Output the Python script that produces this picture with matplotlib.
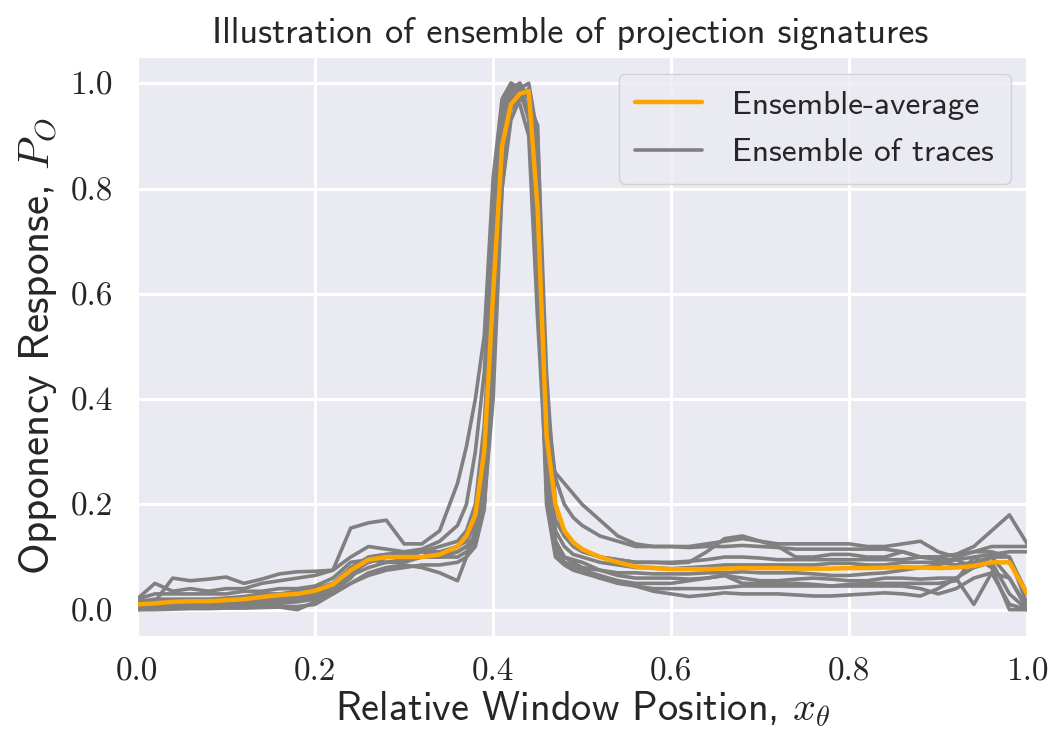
import numpy as np
import matplotlib as mpl
import matplotlib.pyplot as plt
import seaborn as sns

sns.set_style('darkgrid')
mpl.rcParams['mathtext.fontset'] = 'cm'
mpl.rcParams['axes.unicode_minus'] = False
mpl.rcParams['font.family'] = ['cmss10', 'DejaVu Sans']

# relative window positions (finer around the peak)
x_pos = [0.00, 0.02, 0.04, 0.06, 0.08, 0.10, 0.12, 0.14, 0.16, 0.18,
         0.20, 0.22, 0.24, 0.26, 0.28, 0.30, 0.32, 0.34, 0.36,
         0.37, 0.38, 0.39, 0.40, 0.41, 0.42, 0.43, 0.44, 0.45, 0.46,
         0.47, 0.48, 0.49, 0.50,
         0.52, 0.54, 0.56, 0.58, 0.60, 0.62, 0.64, 0.66, 0.68, 0.70,
         0.72, 0.74, 0.76, 0.78, 0.80, 0.82, 0.84, 0.86, 0.88, 0.90,
         0.92, 0.94, 0.96, 0.98, 1.00]

trace_1 = [0.02, 0.05, 0.035, 0.04, 0.035, 0.04, 0.04, 0.05, 0.055, 0.06,
           0.065, 0.075, 0.155, 0.165, 0.17, 0.125, 0.125, 0.15, 0.24,
           0.31, 0.40, 0.52, 0.82, 0.97, 1.0, 0.99, 0.93, 0.6, 0.3,
           0.26, 0.24, 0.22, 0.2,
           0.17, 0.14, 0.125, 0.12, 0.12, 0.12, 0.125, 0.13, 0.135, 0.13,
           0.125, 0.125, 0.125, 0.125, 0.125, 0.12, 0.12, 0.125, 0.13, 0.11,
           0.10, 0.11, 0.12, 0.12, 0.12]
trace_2 = [0.01, 0.015, 0.06, 0.055, 0.058, 0.062, 0.05, 0.058, 0.068, 0.072,
           0.073, 0.075, 0.10, 0.12, 0.115, 0.11, 0.115, 0.13, 0.16,
           0.2, 0.3, 0.45, 0.75, 0.95, 0.99, 1.0, 0.97, 0.85, 0.4,
           0.25, 0.2, 0.175, 0.16,
           0.14, 0.13, 0.12, 0.12, 0.12, 0.118, 0.12, 0.12, 0.122, 0.12,
           0.118, 0.115, 0.115, 0.115, 0.115, 0.115, 0.115, 0.11, 0.10, 0.095,
           0.095, 0.10, 0.105, 0.11, 0.11]
trace_3 = [0.005, 0.005, 0.008, 0.01, 0.01, 0.012, 0.015, 0.02, 0.02, 0.025,
           0.03, 0.04, 0.07, 0.09, 0.1, 0.105, 0.11, 0.11, 0.12,
           0.14, 0.17, 0.3, 0.6, 0.9, 0.97, 0.99, 1.0, 0.9, 0.45,
           0.2, 0.14, 0.12, 0.11,
           0.1, 0.095, 0.09, 0.09, 0.09, 0.092, 0.095, 0.1, 0.1, 0.098,
           0.095, 0.095, 0.095, 0.095, 0.095, 0.095, 0.095, 0.095, 0.1, 0.1,
           0.105, 0.12, 0.15, 0.18, 0.125]
trace_4 = [0.0, 0.002, 0.003, 0.003, 0.004, 0.004, 0.005, 0.005, 0.006, 0.006,
           0.01, 0.03, 0.05, 0.065, 0.075, 0.08, 0.085, 0.085, 0.09,
           0.1, 0.12, 0.19, 0.45, 0.85, 0.96, 0.99, 0.98, 0.88, 0.3,
           0.13, 0.1, 0.09, 0.08,
           0.06, 0.05, 0.045, 0.035, 0.03, 0.025, 0.028, 0.032, 0.03, 0.03,
           0.03, 0.028, 0.026, 0.026, 0.028, 0.03, 0.032, 0.03, 0.026, 0.04,
           0.06, 0.08, 0.09, 0.03, 0.0]
trace_5 = [0.01, 0.01, 0.012, 0.012, 0.013, 0.014, 0.015, 0.018, 0.02, 0.022,
           0.03, 0.045, 0.065, 0.08, 0.09, 0.095, 0.1, 0.105, 0.12,
           0.13, 0.16, 0.25, 0.5, 0.9, 0.98, 1.0, 0.97, 0.75, 0.25,
           0.13, 0.1, 0.095, 0.09,
           0.075, 0.065, 0.06, 0.06, 0.06, 0.058, 0.06, 0.065, 0.06, 0.055,
           0.055, 0.058, 0.06, 0.058, 0.055, 0.055, 0.06, 0.06, 0.058, 0.06,
           0.06, 0.01, 0.07, 0.06, 0.005]
trace_6 = [0.005, 0.006, 0.006, 0.007, 0.007, 0.008, 0.008, 0.01, 0.012, 0.015,
           0.02, 0.03, 0.05, 0.07, 0.08, 0.085, 0.08, 0.07, 0.055,
           0.1, 0.15, 0.2, 0.55, 0.93, 0.99, 0.98, 0.94, 0.7, 0.22,
           0.11, 0.09, 0.085, 0.08,
           0.075, 0.07, 0.07, 0.068, 0.068, 0.068, 0.07, 0.07, 0.072, 0.07,
           0.07, 0.07, 0.068, 0.065, 0.065, 0.068, 0.07, 0.075, 0.08, 0.085,
           0.095, 0.08, 0.1, 0.06, 0.0]
trace_7 = [0.008, 0.01, 0.01, 0.01, 0.012, 0.012, 0.012, 0.015, 0.015, 0.02,
           0.025, 0.035, 0.06, 0.1, 0.105, 0.1, 0.11, 0.1, 0.11,
           0.12, 0.14, 0.22, 0.7, 0.95, 1.0, 0.99, 0.95, 0.65, 0.2,
           0.1, 0.085, 0.075, 0.07,
           0.06, 0.055, 0.05, 0.05, 0.05, 0.055, 0.06, 0.065, 0.05, 0.05,
           0.05, 0.05, 0.048, 0.045, 0.048, 0.05, 0.05, 0.05, 0.05, 0.05,
           0.055, 0.1, 0.08, 0.0, 0.0]
trace_8 = [0.015, 0.02, 0.02, 0.02, 0.02, 0.022, 0.025, 0.03, 0.03, 0.035,
           0.04, 0.05, 0.08, 0.1, 0.105, 0.11, 0.11, 0.12, 0.13,
           0.15, 0.2, 0.35, 0.65, 0.92, 0.97, 0.96, 0.9, 0.55, 0.25,
           0.17, 0.14, 0.125, 0.115,
           0.1, 0.095, 0.09, 0.09, 0.088, 0.09, 0.11, 0.135, 0.14, 0.13,
           0.12, 0.1, 0.1, 0.105, 0.105, 0.1, 0.1, 0.11, 0.1, 0.1,
           0.105, 0.11, 0.11, 0.1, 0.03]
trace_9 = [0.02, 0.03, 0.03, 0.03, 0.03, 0.03, 0.035, 0.035, 0.04, 0.04,
           0.045, 0.06, 0.09, 0.095, 0.09, 0.09, 0.1, 0.1, 0.1,
           0.11, 0.13, 0.22, 0.5, 0.8, 0.93, 0.97, 0.99, 0.8, 0.3,
           0.15, 0.12, 0.105, 0.1,
           0.09, 0.085, 0.08, 0.08, 0.078, 0.08, 0.082, 0.085, 0.085, 0.085,
           0.085, 0.085, 0.085, 0.088, 0.088, 0.085, 0.085, 0.09, 0.09, 0.09,
           0.085, 0.09, 0.1, 0.1, 0.01]
trace_10 = [0.0, 0.0, 0.001, 0.002, 0.002, 0.003, 0.003, 0.004, 0.005, 0.0,
            0.015, 0.04, 0.08, 0.09, 0.1, 0.1, 0.1, 0.1, 0.11,
            0.12, 0.14, 0.2, 0.4, 0.8, 0.95, 0.97, 0.96, 0.92, 0.35,
            0.12, 0.09, 0.08, 0.075,
            0.065, 0.055, 0.045, 0.04, 0.04, 0.04, 0.04, 0.042, 0.045, 0.045,
            0.045, 0.045, 0.045, 0.045, 0.045, 0.045, 0.045, 0.045, 0.04, 0.03,
            0.04, 0.06, 0.07, 0.01, 0.0]

ensemble_avg = [0.01, 0.012, 0.015, 0.016, 0.016, 0.018, 0.02, 0.024, 0.028, 0.03,
                0.036, 0.048, 0.075, 0.095, 0.1, 0.1, 0.1, 0.105, 0.12,
                0.14, 0.18, 0.3, 0.6, 0.88, 0.96, 0.98, 0.985, 0.76, 0.33,
                0.2, 0.15, 0.128, 0.115,
                0.1, 0.09, 0.082, 0.079, 0.077, 0.077, 0.077, 0.078, 0.079, 0.079,
                0.079, 0.078, 0.078, 0.078, 0.079, 0.079, 0.08, 0.081, 0.08, 0.079,
                0.08, 0.083, 0.09, 0.09, 0.03]

traces = [trace_1, trace_2, trace_3, trace_4, trace_5,
          trace_6, trace_7, trace_8, trace_9, trace_10]

fig = plt.figure(figsize=(10.51, 7.34), dpi=100)
ax = fig.add_axes([0.1304, 0.1335, 0.847, 0.789])

for i, tr in enumerate(traces):
    ax.plot(x_pos, tr, color='gray', lw=2.6,
            label='Ensemble of traces' if i == 0 else None)
ax.plot(x_pos, ensemble_avg, color='orange', lw=3.2, label='Ensemble-average')

ax.set_xlim(0, 1)
ax.set_ylim(-0.05, 1.05)
ax.set_xticks([0.0, 0.2, 0.4, 0.6, 0.8, 1.0])
ax.set_yticks([0.0, 0.2, 0.4, 0.6, 0.8, 1.0])
ax.set_xticklabels(['0.0', '0.2', '0.4', '0.6', '0.8', '1.0'])
ax.set_yticklabels(['0.0', '0.2', '0.4', '0.6', '0.8', '1.0'])
for lab in ax.get_xticklabels() + ax.get_yticklabels():
    lab.set_fontfamily('cmr10')
    lab.set_fontsize(24)
ax.tick_params(axis='x', pad=12)
ax.tick_params(axis='y', pad=14)
ax.grid(color='white', lw=2.2)

ax.set_title('Illustration of ensemble of projection signatures', fontsize=26,
             pad=10, x=0.487)
ax.set_xlabel(r'Relative Window Position, $x_\theta$', fontsize=29, labelpad=2)
ax.set_ylabel(r'Opponency Response, $P_O$', fontsize=31, labelpad=8)

handles, labels = ax.get_legend_handles_labels()
leg = ax.legend(handles[::-1], labels[::-1], loc='upper right', fontsize=24,
                frameon=True, fancybox=True, framealpha=0.8,
                labelspacing=0.55, handletextpad=0.9, borderpad=0.5)
leg.get_frame().set_edgecolor('#cccccc')

plt.savefig('out.png', dpi=100)
